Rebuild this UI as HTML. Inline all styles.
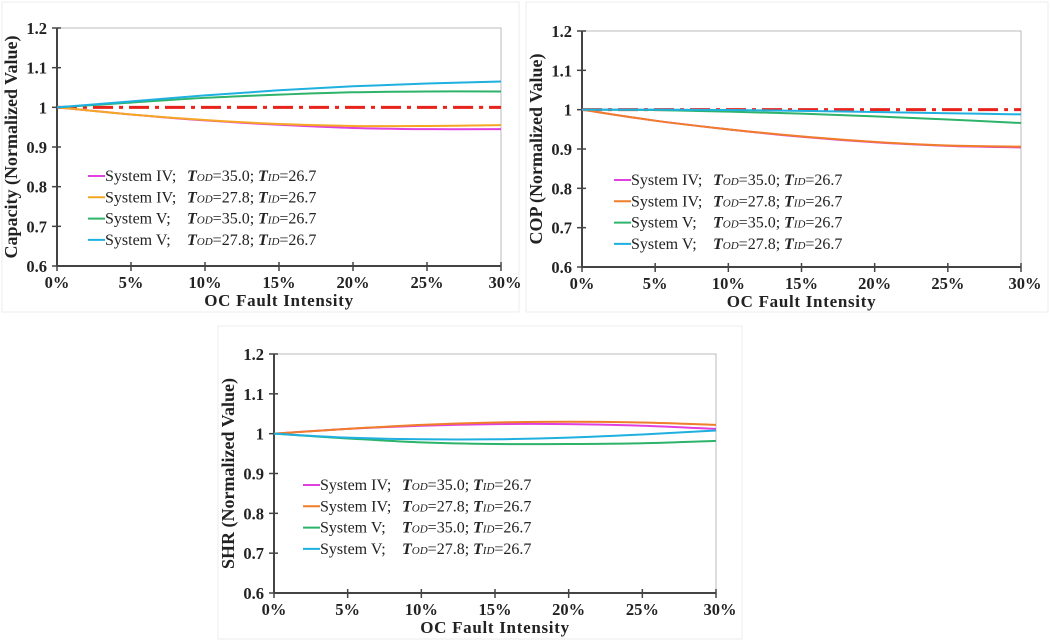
<!DOCTYPE html>
<html><head><meta charset="utf-8">
<style>
html,body{margin:0;padding:0;background:#fff;}
svg{display:block;font-family:"Liberation Serif",serif;}
.tick{font-size:16.5px;font-weight:bold;fill:#222;}
.ttl{font-size:17px;font-weight:bold;fill:#222;}
.ytl{font-size:18px;font-weight:bold;fill:#222;}
.leg{font-size:16px;fill:#222;}
</style></head><body>
<svg id="root" width="1050" height="641" viewBox="0 0 1050 641">
<rect x="2" y="2" width="517" height="310" fill="none" stroke="#eee"/>
<rect x="526" y="2" width="522" height="310" fill="none" stroke="#eee"/>
<rect x="218" y="326" width="524" height="313" fill="none" stroke="#eee"/>
</svg>
<script>
const xCats=[0,5,10,15,20,25,30];
const xTickLabels=["0%","5%","10%","15%","20%","25%","30%"];
const yTicks=[0.6,0.7,0.8,0.9,1,1.1,1.2];
const yTickLabels=["0.6","0.7","0.8","0.9","1","1.1","1.2"];
const seriesNames=["System IV;","System IV;","System V;","System V;"];
const seriesTod=["35.0","27.8","35.0","27.8"];
const capMagenta=[1,0.982,0.967,0.956,0.948,0.945,0.945];
const capOrange=[1,0.982,0.968,0.958,0.953,0.953,0.955];
const capGreen=[1,1.012,1.024,1.032,1.038,1.040,1.040];
const capCyan=[1,1.015,1.030,1.043,1.053,1.060,1.065];
const copMagenta=[1,0.972,0.950,0.931,0.917,0.908,0.904];
const copOrange=[1,0.972,0.950,0.932,0.918,0.909,0.906];
const copGreen=[1,0.999,0.995,0.990,0.983,0.975,0.966];
const copCyan=[1,1,0.999,0.997,0.994,0.991,0.988];
const shrMagenta=[1,1.012,1.020,1.024,1.024,1.020,1.012];
const shrOrange=[1,1.012,1.022,1.028,1.030,1.028,1.022];
const shrGreen=[1,0.988,0.978,0.974,0.974,0.976,0.982];
const shrCyan=[1,0.990,0.986,0.986,0.990,0.998,1.008];
const refLine=[1,1,1,1,1,1,1];

const NS="http://www.w3.org/2000/svg";
const root=document.getElementById('root');
function mk(tag,attrs,parent,text){const e=document.createElementNS(NS,tag);for(const k in attrs)e.setAttribute(k,attrs[k]);if(text!=null)e.textContent=text;parent.appendChild(e);return e;}

function chart(cfg){
  const g=mk('g',{},root);
  
  
  const xs=v=>cfg.x0+(v-0)/30*(cfg.x1-cfg.x0);
  const ys=v=>cfg.y1+(v-0.6)/0.6*(cfg.y0-cfg.y1);
  const frame=mk('path',{d:`M${cfg.x0},${cfg.y0}H${cfg.x1}V${cfg.y1}`,fill:'none',stroke:'#bbb','stroke-width':1},g);
  
  
  const ya=mk('line',{x1:cfg.x0,y1:cfg.y0,x2:cfg.x0,y2:cfg.y1,stroke:'#444','stroke-width':2},g);
  
  
  const xa=mk('line',{x1:cfg.x0,y1:cfg.y1,x2:cfg.x1,y2:cfg.y1,stroke:'#444','stroke-width':2},g);
  
  
  yTicks.forEach((t,i)=>{
    mk('line',{x1:cfg.x0-5,x2:cfg.x0+4,y1:ys(t),y2:ys(t),stroke:'#444','stroke-width':1.5},g);
    const tx=mk('text',{x:cfg.x0-10,y:ys(t)+6,'text-anchor':'end',class:'tick'},g,yTickLabels[i]);
    
    
  });
  xCats.forEach((c,i)=>{
    mk('line',{x1:xs(c),x2:xs(c),y1:cfg.y1-4,y2:cfg.y1+5,stroke:'#444','stroke-width':1.5},g);
    const tx=mk('text',{x:xs(c)+(i==6?4:0),y:cfg.y1+22,'text-anchor':'middle',class:'tick'},g,xTickLabels[i]);
    
    
  });
  const xt=mk('text',{x:(cfg.x0+cfg.x1)/2,y:cfg.y1+40,'text-anchor':'middle',class:'ttl','letter-spacing':'0.7'},g,'OC Fault Intensity');
  
  
  const cy=(cfg.y0+cfg.y1)/2;
  const yt=mk('text',{x:0,y:0,'text-anchor':'middle',class:'ytl',transform:`translate(${cfg.x0-40},${cy}) rotate(-90)`},g,cfg.ytitle);
  
  
  function smooth(vals){
    const p=vals.map((v,i)=>[xs(xCats[i]),ys(v)]);
    let d=`M${p[0][0]},${p[0][1]}`;
    for(let i=0;i<p.length-1;i++){
      const a=p[Math.max(i-1,0)],b=p[i],c=p[i+1],e=p[Math.min(i+2,p.length-1)];
      d+=` C${b[0]+(c[0]-a[0])/6},${b[1]+(c[1]-a[1])/6} ${c[0]-(e[0]-b[0])/6},${c[1]-(e[1]-b[1])/6} ${c[0]},${c[1]}`;
    }
    return d;
  }
  if(cfg.ref){
    const r=mk('path',{d:smooth(refLine),fill:'none',stroke:'#e8231c','stroke-width':3,'stroke-dasharray':'20,6,4,6'},g);
    
    
  }
  cfg.series.forEach((s,i)=>{
    const p=mk('path',{d:smooth(s.v),fill:'none',stroke:s.c,'stroke-width':2},g);
    
    
  });
  cfg.series.forEach((s,i)=>{
    const ly=cfg.ly+i*21.3;
    const lg=mk('g',{},g);
    
    
    mk('line',{x1:cfg.lx,x2:cfg.lx+17,y1:ly,y2:ly,stroke:s.c,'stroke-width':2},lg);
    mk('text',{x:cfg.lx+17,y:ly+5,class:'leg'},lg,seriesNames[i]);
    const t1=mk('text',{x:cfg.lx+99,y:ly+5,class:'leg'},lg);
    mk('tspan',{'font-style':'italic','font-weight':'bold'},t1,'T');
    mk('tspan',{'font-style':'italic','font-size':'11px'},t1,'OD');
    mk('tspan',{},t1,'='+seriesTod[i]+';');
    const t2=mk('text',{x:cfg.lx+170,y:ly+5,class:'leg'},lg);
    mk('tspan',{'font-style':'italic','font-weight':'bold'},t2,'T');
    mk('tspan',{'font-style':'italic','font-size':'11px'},t2,'ID');
    mk('tspan',{},t2,'=26.7');
  });
}
chart({name:'capacity-chart',x0:57,x1:501,y0:28,y1:266,ytitle:'Capacity (Normalized Value)',ref:true,lx:88,ly:176,
  series:[{v:capMagenta,c:'#e040e0'},{v:capOrange,c:'#f5a623'},{v:capGreen,c:'#2db36a'},{v:capCyan,c:'#1fb0e0'}]});
chart({name:'cop-chart',x0:582,x1:1021,y0:31,y1:267,ytitle:'COP (Normalized Value)',ref:true,lx:614,ly:180,
  series:[{v:copMagenta,c:'#e040e0'},{v:copOrange,c:'#ef7d2a'},{v:copGreen,c:'#2db36a'},{v:copCyan,c:'#1fb0e0'}]});
chart({name:'shr-chart',x0:274,x1:716,y0:354,y1:593,ytitle:'SHR (Normalized Value)',ref:false,lx:303,ly:485,
  series:[{v:shrMagenta,c:'#e040e0'},{v:shrOrange,c:'#ef7d2a'},{v:shrGreen,c:'#2db36a'},{v:shrCyan,c:'#1fb0e0'}]});
</script>
</body></html>
